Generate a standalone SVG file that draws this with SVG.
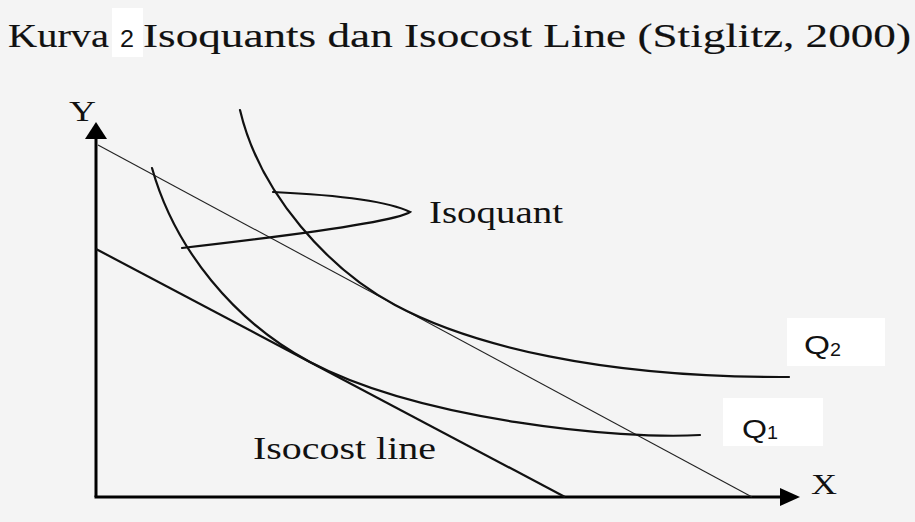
<svg xmlns="http://www.w3.org/2000/svg" width="915" height="522" viewBox="0 0 915 522">
<defs>
<style>
.serif{font-family:"Liberation Serif","Times New Roman",serif;fill:#111;}
.heavy{stroke:#111;stroke-width:0.15;}
.sans{font-family:"Liberation Sans",Arial,sans-serif;fill:#111;}
.curve{fill:none;stroke:#111;stroke-width:2.2;stroke-linecap:round;}
.axis{fill:none;stroke:#000;stroke-width:3;}
.box{fill:#fff;}
</style>
</defs>
<rect width="915" height="522" fill="#f4f4f4"/>
<g id="title">
<rect class="box" x="112" y="8" width="31" height="49"/>
<text class="serif heavy" x="8" y="47" font-size="34" textLength="101" lengthAdjust="spacingAndGlyphs">Kurva</text>
<text class="sans" x="120" y="47" font-size="23" textLength="14" lengthAdjust="spacingAndGlyphs">2</text>
<text class="serif heavy" x="143" y="47" font-size="34" textLength="768" lengthAdjust="spacingAndGlyphs">Isoquants dan Isocost Line (Stiglitz, 2000)</text>
</g>
<g id="axes">
<line class="axis" x1="96" y1="136" x2="96" y2="497"/>
<line class="axis" x1="94.5" y1="497" x2="782" y2="497"/>
<polygon points="96,122 85,139 107,139" fill="#000"/>
<polygon points="800,497 780,488 780,506" fill="#000"/>
<text class="serif" x="69" y="121" font-size="29" textLength="27" lengthAdjust="spacingAndGlyphs">Y</text>
<text class="serif" x="811" y="494" font-size="29" textLength="26" lengthAdjust="spacingAndGlyphs">X</text>
</g>
<g id="isocost-lines">
<line x1="98" y1="145" x2="752" y2="497" stroke="#222" stroke-width="1.1"/>
<line x1="96" y1="249" x2="565" y2="497" stroke="#111" stroke-width="2.2"/>
</g>
<g id="isoquant-q1">
<path class="curve" d="M152,168 C175,250 235,322 310,362 C420,420 620,440 700,435"/>
<rect class="box" x="723" y="398" width="100" height="48"/>
<text class="sans" x="742" y="438" font-size="26" textLength="25" lengthAdjust="spacingAndGlyphs">Q</text>
<text class="sans" x="767" y="439" font-size="19" textLength="11" lengthAdjust="spacingAndGlyphs">1</text>
</g>
<g id="isoquant-q2">
<path class="curve" d="M240,110 C260,195 330,270 395,305 C470,345 600,378 789,377"/>
<rect class="box" x="787" y="318" width="98" height="48"/>
<text class="sans" x="804" y="354" font-size="26" textLength="26" lengthAdjust="spacingAndGlyphs">Q</text>
<text class="sans" x="830" y="356" font-size="19" textLength="11" lengthAdjust="spacingAndGlyphs">2</text>
</g>
<g id="connectors">
<path class="curve" d="M273,192 Q380,197 410,212 Q392,224 182,248"/>
</g>
<g id="labels">
<text class="serif" x="429" y="223" font-size="31" textLength="134" lengthAdjust="spacingAndGlyphs">Isoquant</text>
<text class="serif" x="253" y="459" font-size="31" textLength="183" lengthAdjust="spacingAndGlyphs">Isocost line</text>
</g>
</svg>
